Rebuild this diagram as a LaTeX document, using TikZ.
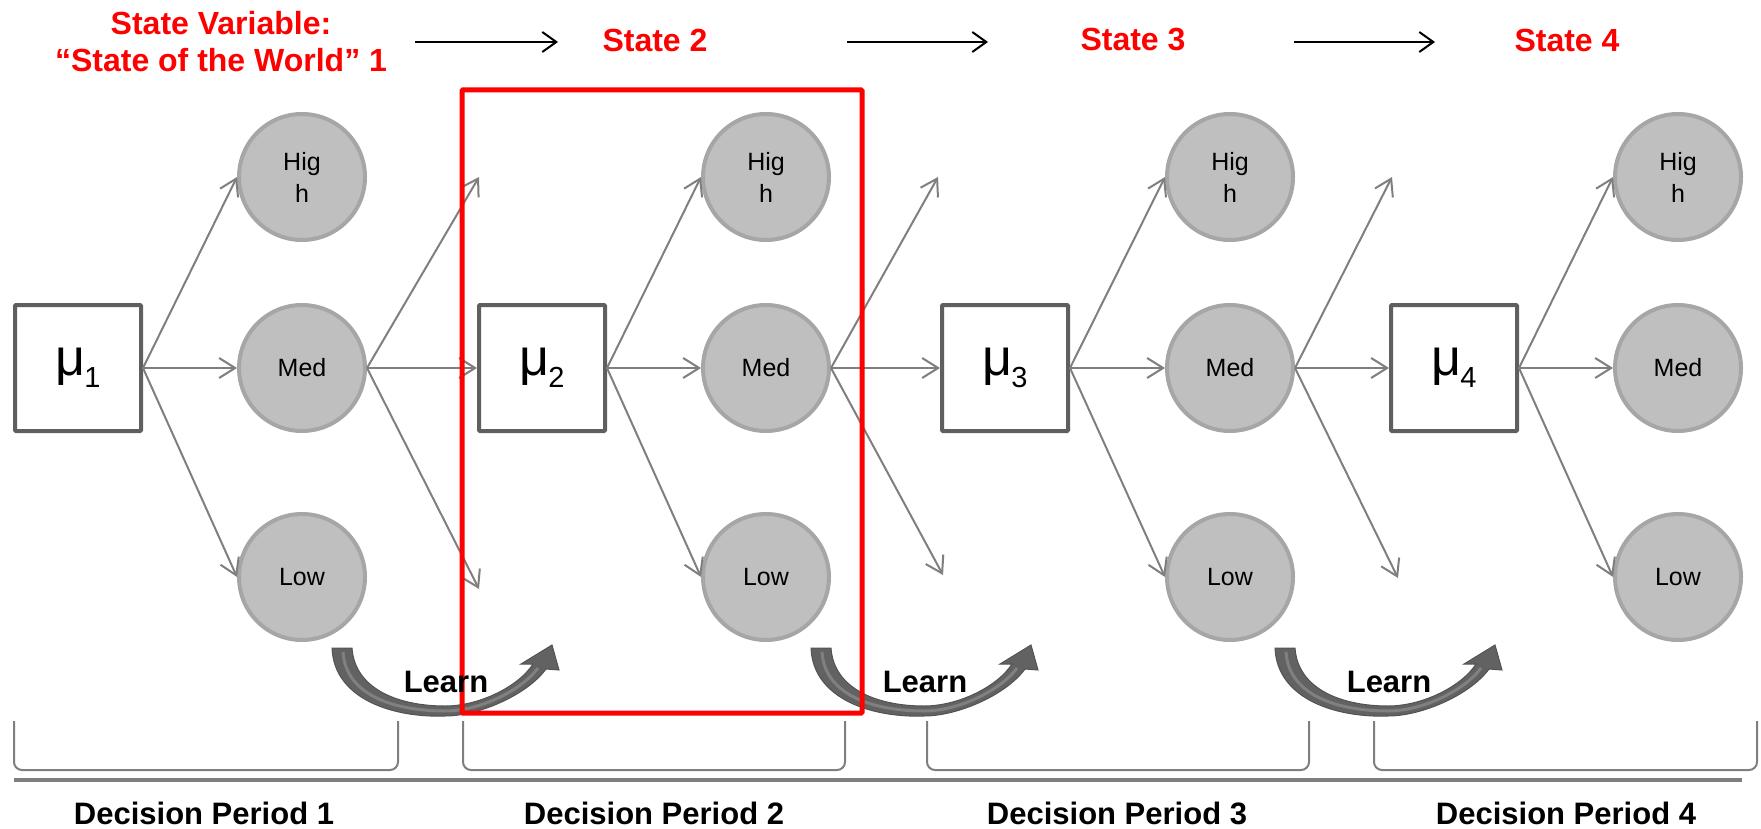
\documentclass[tikz,border=0pt]{standalone}
\usepackage{fontspec}
\setmainfont{Liberation Sans}
\usetikzlibrary{arrows.meta}
\definecolor{conngray}{HTML}{7F7F7F}
\definecolor{circfill}{HTML}{BFBFBF}
\definecolor{circline}{HTML}{A6A6A6}
\definecolor{boxline}{HTML}{5F5F5F}
\definecolor{learngray}{HTML}{626262}
\definecolor{learnlight}{HTML}{808080}
\newcommand{\mymu}[1]{{\fontsize{52}{52}\selectfont μ}\kern-1pt\raisebox{-12pt}{\fontsize{29}{29}\selectfont #1}}
\begin{document}
\begin{tikzpicture}[x=1pt,y=-1pt,
  state/.style={circle, fill=circfill, draw=circline, line width=4pt, minimum size=126pt, inner sep=0pt, align=center, font=\fontsize{25}{32}\selectfont},
  mubox/.style={rectangle, draw=boxline, fill=white, line width=4pt, minimum size=126pt, inner sep=0pt, rounded corners=1pt},
  conn/.style={draw=conngray, line width=2pt, -{Straight Barb[length=16pt,width=20pt]}},
  toparrow/.style={draw=black, line width=2pt, -{Straight Barb[length=14pt,width=20pt]}},
  redlbl/.style={text=red, font=\bfseries\fontsize{32}{37}\selectfont, align=center, inner sep=0pt},
  period/.style={font=\bfseries\fontsize{31}{36}\selectfont, inner sep=0pt},
  learnlbl/.style={font=\bfseries\fontsize{31}{36}\selectfont, inner sep=0pt},
  bracketline/.style={draw=conngray, line width=2pt, rounded corners=8pt},
  learnarrow/.style={fill=learngray, draw=learngray!85!black, line width=1pt},
]
\useasboundingbox (0,0) rectangle (1761,829);

% top labels
\node[redlbl] (sv) at (221,42) {State Variable:\\“State of the World” 1};
\node[redlbl] (s2) at (655,40) {State 2};
\node[redlbl] (s3) at (1133,40) {State 3};
\node[redlbl] (s4) at (1567,40) {State 4};
\coordinate (t1a) at (415,42); \coordinate (t1b) at (558,42);
\coordinate (t2a) at (847,42); \coordinate (t2b) at (988,42);
\coordinate (t3a) at (1294,42); \coordinate (t3b) at (1435,42);
\draw[toparrow] (t1a) -- (t1b);
\draw[toparrow] (t2a) -- (t2b);
\draw[toparrow] (t3a) -- (t3b);

% boxes
\node[mubox] (b1) at (78,368) {\mymu{1}};
\node[mubox] (b2) at (542,368) {\mymu{2}};
\node[mubox] (b3) at (1005,368) {\mymu{3}};
\node[mubox] (b4) at (1454,368) {\mymu{4}};

% circles
\foreach \i/\x in {1/302,2/766,3/1230,4/1678}{
  \node[state] (h\i) at (\x,177) {Hig\\h};
  \node[state] (m\i) at (\x,368) {Med};
  \node[state] (l\i) at (\x,577) {Low};
}

% free ends
\coordinate (f1h) at (479,177); \coordinate (f1l) at (479,589);
\coordinate (f2h) at (938,177); \coordinate (f2l) at (943,575);
\coordinate (f3h) at (1392,177); \coordinate (f3l) at (1398,578);

% connectors box -> circles
\foreach \i in {1,2,3,4}{
  \draw[conn] (b\i.east) -- (h\i.west);
  \draw[conn] (b\i.east) -- (m\i.west);
  \draw[conn] (b\i.east) -- (l\i.west);
}
% connectors med -> next
\draw[conn] (m1.east) -- (f1h);
\draw[conn] (m1.east) -- (b2.west);
\draw[conn] (m1.east) -- (f1l);
\draw[conn] (m2.east) -- (f2h);
\draw[conn] (m2.east) -- (b3.west);
\draw[conn] (m2.east) -- (f2l);
\draw[conn] (m3.east) -- (f3h);
\draw[conn] (m3.east) -- (b4.west);
\draw[conn] (m3.east) -- (f3l);

% learn arrows
\foreach \dx in {0,479,943}{
  \begin{scope}[xshift=\dx pt]
  \filldraw[learnarrow] (332,648) .. controls (334,700) and (395,718) .. (445,716)
     .. controls (480,716) and (528,694) .. (546,669) -- (559,670) -- (552,645) -- (521,664) -- (533,664)
     .. controls (519,686) and (480,706) .. (445,706) .. controls (400,706) and (355,690) .. (352,648) -- cycle;
  \draw[learnlight, line width=3pt] (343,652) .. controls (346,698) and (400,711) .. (445,711) .. controls (480,711) and (522,690) .. (538,668);
  \end{scope}
}

% red frame
\draw[red, line width=5pt, rounded corners=1pt] (462,90) rectangle (862,713);

% learn labels
\node[learnlbl] (L1) at (446,682) {Learn};
\node[learnlbl] (L2) at (925,682) {Learn};
\node[learnlbl] (L3) at (1389,682) {Learn};

% brackets
\draw[bracketline] (14,721) -- (14,770) -- (398,770) -- (398,721);
\draw[bracketline] (463,721) -- (463,770) -- (845,770) -- (845,721);
\draw[bracketline] (927,721) -- (927,770) -- (1309,770) -- (1309,721);
\draw[bracketline] (1374,721) -- (1374,770) -- (1757,770) -- (1757,721);
\draw[conngray, line width=4pt] (14,780) -- (1742,780);

% period labels
\node[period, anchor=base] (p1) at (204,824) {Decision Period 1};
\node[period, anchor=base] (p2) at (654,824) {Decision Period 2};
\node[period, anchor=base] (p3) at (1117,824) {Decision Period 3};
\node[period, anchor=base] (p4) at (1566,824) {Decision Period 4};
\end{tikzpicture}
\end{document}
